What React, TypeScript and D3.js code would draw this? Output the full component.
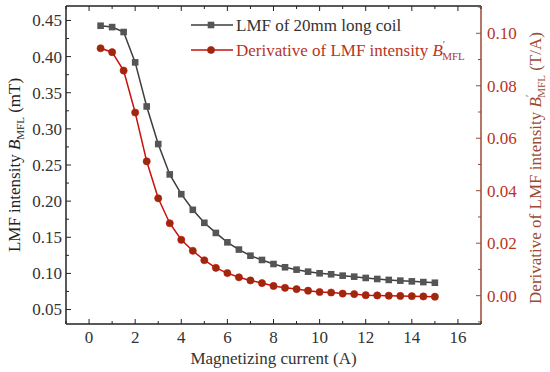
import { scaleLinear, line, range } from 'd3';

const currents = [0.5, 1, 1.5, 2, 2.5, 3, 3.5, 4, 4.5, 5, 5.5, 6, 6.5, 7, 7.5, 8, 8.5, 9, 9.5, 10, 10.5, 11, 11.5, 12, 12.5, 13, 13.5, 14, 14.5, 15];
const lmf = [0.4427, 0.4408, 0.434, 0.392, 0.331, 0.279, 0.237, 0.2096, 0.188, 0.170, 0.156, 0.143, 0.133, 0.1245, 0.1186, 0.113, 0.1085, 0.1052, 0.1024, 0.1002, 0.0988, 0.0969, 0.0955, 0.0937, 0.0923, 0.091, 0.090, 0.089, 0.088, 0.0871];
const deriv = [0.0943, 0.0928, 0.0858, 0.0698, 0.0512, 0.0371, 0.0276, 0.0213, 0.0171, 0.0135, 0.0106, 0.0086, 0.0070, 0.0058, 0.0048, 0.0037, 0.0030, 0.0025, 0.0019, 0.0014, 0.0012, 0.0008, 0.0006, 0.0002, 0.0001, 0.0, -0.0001, -0.0002, -0.0003, -0.0004];

const xTicks = [0, 2, 4, 6, 8, 10, 12, 14, 16];
const leftTicks = [0.05, 0.10, 0.15, 0.20, 0.25, 0.30, 0.35, 0.40, 0.45];
const rightTicks = [0.00, 0.02, 0.04, 0.06, 0.08, 0.10];

const width = 550;
const height = 372;
const margin = { top: 6, right: 69, bottom: 48, left: 66 };
const font = '"Liberation Serif", "Times New Roman", serif';
const redText = '#b8341f';
const redAxis = '#9b4a33';

function App() {
  const innerWidth = width - margin.left - margin.right;
  const innerHeight = height - margin.top - margin.bottom;

  const xScale = scaleLinear().domain([-1, 17]).range([0, innerWidth]);
  const yLeft = scaleLinear().domain([0.03, 0.47]).range([innerHeight, 0]);
  const yRight = scaleLinear().domain([-0.0108, 0.1104]).range([innerHeight, 0]);

  const lmfLine = line<number>().x((_, i) => xScale(currents[i])).y(d => yLeft(d));
  const derivLine = line<number>().x((_, i) => xScale(currents[i])).y(d => yRight(d));

  const xMinor = range(-1, 18, 1).filter(v => !xTicks.includes(v));
  const leftMinor = leftTicks.map(t => t + 0.025).filter(v => v < 0.47);
  const rightMinor = range(-0.01, 0.111, 0.02);

  return (
    <svg width={width} height={height} style={{ position: 'absolute', left: 0, top: 0, fontFamily: font }}>
      <rect width={width} height={height} fill='white' />
      <g transform={`translate(${margin.left}, ${margin.top})`}>
        {/* frame */}
        <line x1={0} x2={innerWidth} y1={innerHeight} y2={innerHeight} stroke='#222' strokeWidth={1.5} />
        <line x1={0} x2={innerWidth} y1={0} y2={0} stroke='#222' strokeWidth={1.5} />
        <line x1={0} x2={0} y1={0} y2={innerHeight} stroke='#222' strokeWidth={1.5} />
        <line x1={innerWidth} x2={innerWidth} y1={0} y2={innerHeight} stroke={redAxis} strokeWidth={1.5} />

        {/* x ticks */}
        {xTicks.map(t => (
          <g key={t} transform={`translate(${xScale(t)}, 0)`}>
            <line y1={innerHeight} y2={innerHeight - 5} stroke='#222' />
            <line y1={0} y2={5} stroke='#222' />
            <text y={innerHeight + 19} textAnchor='middle' fontSize={17} fill='#333'>{t}</text>
          </g>
        ))}
        {xMinor.map(t => (
          <g key={t} transform={`translate(${xScale(t)}, 0)`}>
            <line y1={innerHeight} y2={innerHeight - 3} stroke='#222' />
            <line y1={0} y2={3} stroke='#222' />
          </g>
        ))}

        {/* left ticks */}
        {leftTicks.map(t => (
          <g key={t} transform={`translate(0, ${yLeft(t)})`}>
            <line x1={0} x2={5} stroke='#222' />
            <text x={-4} dy='.35em' textAnchor='end' fontSize={17} fill='#333'>{t.toFixed(2)}</text>
          </g>
        ))}
        {leftMinor.map(t => (
          <line key={t} x1={0} x2={3} y1={yLeft(t)} y2={yLeft(t)} stroke='#222' />
        ))}

        {/* right ticks */}
        {rightTicks.map(t => (
          <g key={t} transform={`translate(${innerWidth}, ${yRight(t)})`}>
            <line x1={0} x2={-5} stroke={redAxis} />
            <text x={6} dy='.35em' textAnchor='start' fontSize={17} fill={redText}>{t.toFixed(2)}</text>
          </g>
        ))}
        {rightMinor.map(t => (
          <line key={t} x1={innerWidth} x2={innerWidth - 3} y1={yRight(t)} y2={yRight(t)} stroke={redAxis} />
        ))}

        {/* series */}
        <path d={lmfLine(lmf) || ''} fill='none' stroke='#3d3d3d' strokeWidth={1.5} />
        {lmf.map((d, i) => (
          <rect key={i} x={xScale(currents[i]) - 3.3} y={yLeft(d) - 3.3} width={6.6} height={6.6} fill='#555' />
        ))}
        <path d={derivLine(deriv) || ''} fill='none' stroke='#c8100c' strokeWidth={1.5} />
        {deriv.map((d, i) => (
          <circle key={i} cx={xScale(currents[i])} cy={yRight(d)} r={3.6} fill='#9a2a0c' stroke='#c8100c' strokeWidth={0.6} />
        ))}
      </g>

      {/* legend */}
      <g>
        <line x1={191} x2={233} y1={25} y2={25} stroke='#3d3d3d' strokeWidth={1.5} />
        <rect x={211 - 3.3} y={25 - 3.3} width={6.6} height={6.6} fill='#555' />
        <text x={236} y={31} fontSize={17} fill='#333'>LMF of 20mm long coil</text>
        <line x1={191} x2={233} y1={50} y2={50} stroke='#c8100c' strokeWidth={1.5} />
        <circle cx={211} cy={50} r={3.6} fill='#9a2a0c' stroke='#c8100c' strokeWidth={0.6} />
        <text x={236} y={56} fontSize={17} fill={redText}>
          Derivative of LMF intensity <tspan fontStyle='italic'>B</tspan>
          <tspan fontSize={11} dy={-8}>′</tspan>
          <tspan fontSize={11} dx={-3} dy={12}>MFL</tspan>
        </text>
      </g>

      {/* axis titles */}
      <text x={(margin.left + width - margin.right) / 2} y={364} textAnchor='middle' fontSize={17} fill='#333'>
        Magnetizing current (A)
      </text>
      <text transform={`translate(20, 165) rotate(-90)`} textAnchor='middle' fontSize={17} fill='#222'>
        LMF intensity <tspan fontStyle='italic'>B</tspan>
        <tspan fontSize={11} dy={4}>MFL</tspan>
        <tspan dy={-4}> (mT)</tspan>
      </text>
      <text transform={`translate(541, 168) rotate(-90)`} textAnchor='middle' fontSize={17} fill={redAxis}>
        Derivative of LMF intensity <tspan fontStyle='italic'>B</tspan>
        <tspan fontSize={11} dy={-8}>′</tspan>
        <tspan fontSize={11} dx={-3} dy={12}>MFL</tspan>
        <tspan dy={-4}> (T/A)</tspan>
      </text>
    </svg>
  );
}

export default App;
